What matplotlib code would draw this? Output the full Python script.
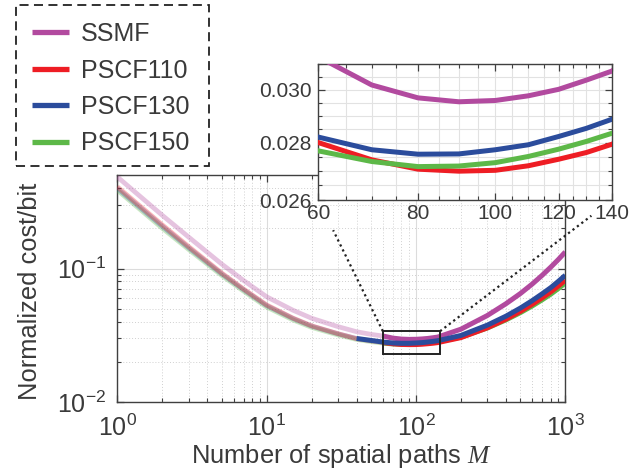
import matplotlib
matplotlib.use("Agg")
import matplotlib.pyplot as plt
from matplotlib.ticker import FixedLocator, FixedFormatter, NullFormatter, LogLocator
from matplotlib.patches import Rectangle
from matplotlib.lines import Line2D
import numpy as np

plt.rcParams['font.family'] = ['Liberation Sans', 'DejaVu Sans']
plt.rcParams['mathtext.fontset'] = 'custom'
plt.rcParams['mathtext.rm'] = 'Liberation Sans'
plt.rcParams['mathtext.it'] = 'Liberation Serif:italic'
plt.rcParams['mathtext.sf'] = 'Liberation Sans'

# ---------------- data ----------------
M = [1, 2, 3, 5, 7, 10, 15, 20, 30, 40, 50, 60, 70, 80, 90, 100, 110, 120, 130, 140,
     200, 300, 400, 500, 600, 700, 800, 900, 1000]
ssmf = [0.484, 0.250, 0.172, 0.108, 0.0815, 0.0615, 0.0488, 0.0425, 0.0368, 0.0337, 0.0322,
        0.0313, 0.03018, 0.02968, 0.02953, 0.02958, 0.02976, 0.03001, 0.03037, 0.03073,
        0.0352, 0.0445, 0.0545, 0.0650, 0.0765, 0.0890, 0.1025, 0.1170, 0.133]
pscf110 = [0.408, 0.212, 0.146, 0.0925, 0.0703, 0.0534, 0.0426, 0.0373, 0.0326, 0.0299, 0.0288,
           0.02801, 0.02739, 0.02706, 0.02699, 0.02702, 0.02718, 0.02741, 0.02765, 0.02795,
           0.03045, 0.03600, 0.04180, 0.04780, 0.05400, 0.06040, 0.06700, 0.0742, 0.0818]
pscf130 = [0.397, 0.207, 0.143, 0.0912, 0.0695, 0.0528, 0.0423, 0.0371, 0.0325, 0.0300, 0.0290,
           0.02821, 0.02775, 0.02759, 0.02760, 0.02775, 0.02793, 0.02823, 0.02853, 0.02887,
           0.03160, 0.0377, 0.0440, 0.0506, 0.0575, 0.0647, 0.0720, 0.0803, 0.089]
pscf150 = [0.385, 0.200, 0.139, 0.0888, 0.0678, 0.0515, 0.0413, 0.0363, 0.0319, 0.0295, 0.0284,
           0.02771, 0.02733, 0.02715, 0.02717, 0.02729, 0.02751, 0.02777, 0.02805, 0.02835,
           0.03073, 0.03590, 0.04130, 0.04680, 0.05250, 0.0584, 0.06440, 0.07100, 0.078]
labels = ['SSMF', 'PSCF110', 'PSCF130', 'PSCF150']
colors = ['#B24A9F', '#EE1D24', '#2B4C9C', '#5DB848']
# M value from which each curve is drawn fully opaque
solid_from = [60, 60, 40, 60]
zoom_x = [60, 140]
zoom_box_x = [60, 145]
zoom_box_y = [0.023, 0.034]
inset_ylim = [0.026, 0.031]
inset_xticks = [60, 80, 100, 120, 140]
inset_yticks = [0.026, 0.028, 0.030]
inset_yticklabels = ['0.026', '0.028', '0.030']

series = [ssmf, pscf110, pscf130, pscf150]

TXT = '#3a3a3a'
W, H = 643, 472
fig = plt.figure(figsize=(W / 100, H / 100), dpi=100)

# ---------------- main axes ----------------
ax = fig.add_axes([117.3 / W, 1 - 402.3 / H, (565.3 - 117.3) / W, (402.3 - 175) / H])
ax.set_xscale('log')
ax.set_yscale('log')
ax.set_xlim(1, 1000)
ax.set_ylim(0.01, 0.5)

Ma = np.array(M)
order = [0, 3, 2, 1]
handles = {}
for i in order:
    y = np.array(series[i])
    k = int(np.where(Ma == solid_from[i])[0][0])
    ax.plot(Ma[:k + 1], y[:k + 1], color=colors[i], lw=3.4, alpha=0.33,
            solid_capstyle='butt', zorder=3)
for i in [0, 3, 1, 2]:
    y = np.array(series[i])
    k = int(np.where(Ma == solid_from[i])[0][0])
    h, = ax.plot(Ma[k:], y[k:], color=colors[i], lw=3.6, solid_capstyle='butt', zorder=4)
    handles[i] = h

ax.grid(which='major', color='#dcdcdc', lw=0.8, ls='-')
ax.grid(which='minor', color='#d0d0d0', lw=0.7, ls=(0, (1, 2)))
ax.set_axisbelow(True)
ax.tick_params(which='both', direction='in', top=True, right=True, colors='#404040',
               labelcolor=TXT, labelsize=18)
ax.tick_params(which='major', length=5, width=0.9)
ax.tick_params(which='minor', length=3, width=0.8)
ax.xaxis.set_major_locator(LogLocator(base=10, numticks=10))
ax.yaxis.set_major_locator(FixedLocator([0.01, 0.1]))
ax.yaxis.set_minor_locator(LogLocator(base=10, subs=np.arange(2, 10), numticks=10))
ax.yaxis.set_minor_formatter(NullFormatter())
ax.xaxis.set_minor_formatter(NullFormatter())
ax.tick_params(axis='x', pad=9)
ax.tick_params(axis='y', pad=8)
for s in ax.spines.values():
    s.set_color('#404040')
    s.set_linewidth(1.0)

ax.set_xlabel('Number of spatial paths $M$', fontsize=18.4, color=TXT)
ax.set_ylabel('Normalized cost/bit', fontsize=18.4, color=TXT)
ax.xaxis.set_label_coords(0.5, -0.175)
ax.yaxis.set_label_coords(-0.168, 0.49)

# zoom box
ax.add_patch(Rectangle((zoom_box_x[0], zoom_box_y[0]), zoom_box_x[1] - zoom_box_x[0],
                       zoom_box_y[1] - zoom_box_y[0], fill=False, ec='#222222', lw=1.4,
                       zorder=6))

# ---------------- inset axes ----------------
ax2 = fig.add_axes([318.3 / W, 1 - 200 / H, (612 - 318.3) / W, (200 - 64.3) / H])
ax2.set_xscale('log')
ax2.set_yscale('log')
for i in [0, 1, 3, 2]:
    ax2.plot(Ma, series[i], color=colors[i], lw=3.6, zorder=3)
ax2.set_xlim(zoom_x)
ax2.set_ylim(inset_ylim)
ax2.xaxis.set_major_locator(FixedLocator(inset_xticks))
ax2.xaxis.set_major_formatter(FixedFormatter([str(v) for v in inset_xticks]))
ax2.xaxis.set_minor_locator(FixedLocator(list(range(65, 140, 5))))
ax2.xaxis.set_minor_formatter(NullFormatter())
ax2.yaxis.set_major_locator(FixedLocator(inset_yticks))
ax2.yaxis.set_major_formatter(FixedFormatter(inset_yticklabels))
ax2.yaxis.set_minor_locator(FixedLocator(list(np.arange(0.0265, 0.0311, 0.0005))))
ax2.yaxis.set_minor_formatter(NullFormatter())
ax2.grid(which='both', color='#e2e2e2', lw=0.8)
ax2.set_axisbelow(True)
ax2.tick_params(which='both', direction='in', top=True, right=True, colors='#404040',
                labelcolor=TXT, labelsize=15)
ax2.tick_params(which='major', length=5, width=0.9)
ax2.tick_params(which='minor', length=3, width=0.8)
ax2.tick_params(axis='x', pad=3)
ax2.tick_params(axis='y', pad=5)
for s in ax2.spines.values():
    s.set_color('#404040')
    s.set_linewidth(1.0)

# dotted connectors from box corners toward inset lower corners
fig.canvas.draw()
to_fig = fig.transFigure.inverted()
corners_main = [(zoom_box_x[0], zoom_box_y[1]), (zoom_box_x[1], zoom_box_y[1])]
corners_inset = [(0, 0), (1, 0)]
fracs = [0.77, 0.88]
for (cm, ci, fr) in zip(corners_main, corners_inset, fracs):
    p0 = to_fig.transform(ax.transData.transform(cm))
    p1 = to_fig.transform(ax2.transAxes.transform(ci))
    pe = p0 + fr * (p1 - p0)
    fig.add_artist(Line2D([p0[0], pe[0]], [p0[1], pe[1]], transform=fig.transFigure,
                          color='#222222', lw=1.6, ls=(0, (1, 1.5)), zorder=10))

# ---------------- legend ----------------
leg = fig.legend([handles[0], handles[1], handles[2], handles[3]], labels,
                 loc='upper left', bbox_to_anchor=(17 / W, 1 - 7 / H),
                 bbox_transform=fig.transFigure, borderaxespad=0, frameon=False,
                 fontsize=18, handlelength=1.48, handletextpad=0.48,
                 labelspacing=0.5, borderpad=0.6, labelcolor=TXT)
for lh in leg.get_lines():
    lh.set_linewidth(3.8)
fig.add_artist(Rectangle((16 / W, 1 - 166 / H), (209 - 16) / W, (166 - 5) / H,
                         transform=fig.transFigure, fill=False, ec='#222222', lw=1.3,
                         ls=(0, (5, 3)), zorder=20))

fig.savefig('out.png', dpi=100)
